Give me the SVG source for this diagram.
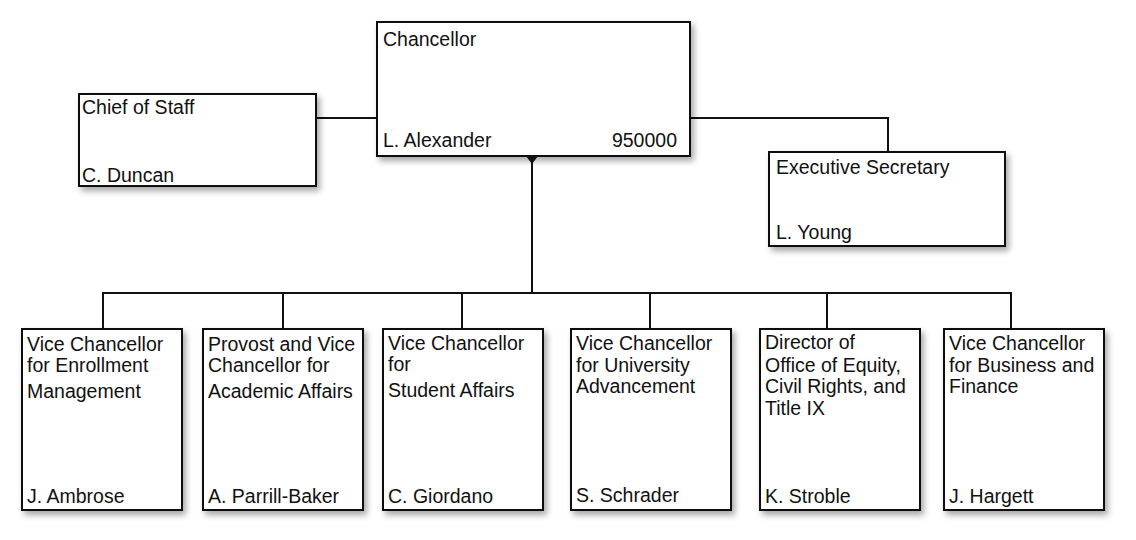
<svg xmlns="http://www.w3.org/2000/svg" width="1136" height="540" viewBox="0 0 1136 540">
<defs>
<filter id="sh" x="-10%" y="-10%" width="125%" height="125%">
<feDropShadow dx="3" dy="4" stdDeviation="3" flood-color="#000" flood-opacity="0.35"/>
</filter>
<style>
.box{fill:#fff;stroke:#111;stroke-width:2;filter:url(#sh)}
.t{font-family:"Liberation Sans",Arial,sans-serif;font-size:19.5px;fill:#111}
.c{fill:none;stroke:#111;stroke-width:2}
</style>
</defs>
<rect width="1136" height="540" fill="#fff"/>
<g id="connectors">
<polyline class="c" points="316,118 377,118"/>
<polyline class="c" points="690,118 888,118 888,152"/>
<polyline class="c" points="532,160 532,293"/>
<polyline class="c" points="103,329 103,293 1011,293 1011,329"/>
<line class="c" x1="283" y1="293" x2="283" y2="329"/>
<line class="c" x1="462" y1="293" x2="462" y2="329"/>
<line class="c" x1="650" y1="293" x2="650" y2="329"/>
<line class="c" x1="827" y1="293" x2="827" y2="329"/>
</g>
<g id="chancellor">
<rect class="box" x="377" y="22" width="313" height="134"/>
<text class="t" x="383" y="46">Chancellor</text>
<text class="t" x="383" y="147">L. Alexander</text>
<text class="t" x="677" y="147" text-anchor="end">950000</text>
<polygon points="526,156 538,156 532,164" fill="#111"/>
</g>
<g id="chief-of-staff">
<rect class="box" x="79" y="94" width="237" height="92"/>
<text class="t" x="82" y="114">Chief of Staff</text>
<text class="t" x="82" y="182">C. Duncan</text>
</g>
<g id="executive-secretary">
<rect class="box" x="769" y="152" width="236" height="94"/>
<text class="t" x="776" y="174">Executive Secretary</text>
<text class="t" x="776" y="239">L. Young</text>
</g>
<g id="vc-enrollment">
<rect class="box" x="22" y="329" width="160" height="181"/>
<text class="t" x="27" y="351">Vice Chancellor</text>
<text class="t" x="27" y="372">for Enrollment</text>
<text class="t" x="27" y="398">Management</text>
<text class="t" x="27" y="503">J. Ambrose</text>
</g>
<g id="provost">
<rect class="box" x="203" y="329" width="160" height="181"/>
<text class="t" x="208" y="351">Provost and Vice</text>
<text class="t" x="208" y="372">Chancellor for</text>
<text class="t" x="208" y="398">Academic Affairs</text>
<text class="t" x="208" y="503">A. Parrill-Baker</text>
</g>
<g id="vc-student-affairs">
<rect class="box" x="383" y="329" width="160" height="181"/>
<text class="t" x="388" y="350">Vice Chancellor</text>
<text class="t" x="388" y="371">for</text>
<text class="t" x="388" y="397">Student Affairs</text>
<text class="t" x="388" y="503">C. Giordano</text>
</g>
<g id="vc-advancement">
<rect class="box" x="571" y="329" width="160" height="181"/>
<text class="t" x="576" y="350">Vice Chancellor</text>
<text class="t" x="576" y="372">for University</text>
<text class="t" x="576" y="393">Advancement</text>
<text class="t" x="576" y="502">S. Schrader</text>
</g>
<g id="director-equity">
<rect class="box" x="760" y="329" width="160" height="181"/>
<text class="t" x="765" y="349">Director of</text>
<text class="t" x="765" y="372">Office of Equity,</text>
<text class="t" x="765" y="393">Civil Rights, and</text>
<text class="t" x="765" y="415">Title IX</text>
<text class="t" x="765" y="503">K. Stroble</text>
</g>
<g id="vc-business">
<rect class="box" x="944" y="329" width="160" height="181"/>
<text class="t" x="949" y="350">Vice Chancellor</text>
<text class="t" x="949" y="372">for Business and</text>
<text class="t" x="949" y="393">Finance</text>
<text class="t" x="949" y="503">J. Hargett</text>
</g>
</svg>
